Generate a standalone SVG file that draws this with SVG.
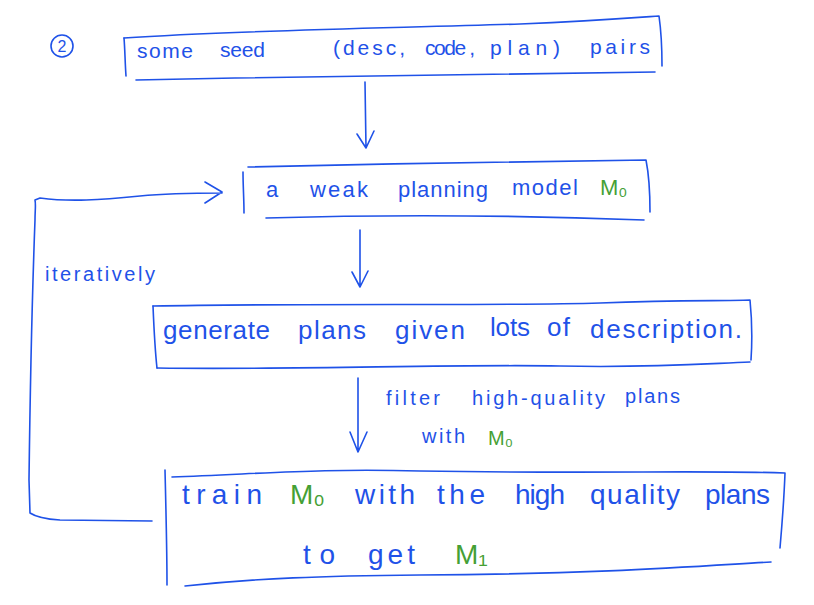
<svg xmlns="http://www.w3.org/2000/svg" width="814" height="605" viewBox="0 0 814 605">
<style>
.ln{fill:none;stroke:#1f52e8;stroke-width:1.6;stroke-linecap:round;stroke-linejoin:round}
.t{font-family:"Liberation Sans",Arial,sans-serif;fill:#1f52e8}
.g{fill:#45a035}
</style>
<rect width="814" height="605" fill="#ffffff"/>
<g id="step-number">
<circle class="ln" cx="62" cy="46" r="11"/>
<text class="t" x="62" y="52" font-size="16" text-anchor="middle">2</text>
</g>
<g id="node-seed">
<path class="ln" d="M124,38 C240,30 400,28 520,24 C590,21 630,18 659,16 C661,30 662,50 662,66"/>
<path class="ln" d="M124,38 C125,50 125,62 126,76"/>
<path class="ln" d="M136,80 C300,76 450,76 655,72"/>
<g class="t" font-size="21">
<text x="137" y="58" textLength="56" lengthAdjust="spacing">some</text>
<text x="220" y="57" textLength="45" lengthAdjust="spacing">seed</text>
<text x="333" y="55" textLength="72" lengthAdjust="spacing">(desc,</text>
<text x="425" y="55" textLength="50" lengthAdjust="spacing">code ,</text>
<text x="490" y="55" textLength="70" lengthAdjust="spacing">plan)</text>
<text x="590" y="54" textLength="60" lengthAdjust="spacing">pairs</text>
</g>
</g>
<g id="node-weak-model">
<path class="ln" d="M243,172 C243,185 244,200 244,213"/>
<path class="ln" d="M248,167 C380,164 520,161 646,160 C649,175 650,195 650,212"/>
<path class="ln" d="M266,218 C400,214 540,216 644,220"/>
<g class="t" font-size="22">
<text x="266" y="197">a</text>
<text x="310" y="197" textLength="58" lengthAdjust="spacing">weak</text>
<text x="398" y="197" textLength="90" lengthAdjust="spacing">planning</text>
<text x="512" y="195" textLength="66" lengthAdjust="spacing">model</text>
<text class="g" x="600" y="195">M₀</text>
</g>
</g>
<g id="node-generate">
<path class="ln" d="M153,306 C300,303 500,306 600,303 C680,300 720,301 750,300 C752,320 752,345 751,360"/>
<path class="ln" d="M153,306 C154,330 155,350 157,368"/>
<path class="ln" d="M157,368 C300,370 450,364 560,366 C650,368 700,364 750,362"/>
<g class="t" font-size="26">
<text x="163" y="339" textLength="107" lengthAdjust="spacing">generate</text>
<text x="298" y="339" textLength="68" lengthAdjust="spacing">plans</text>
<text x="395" y="339" textLength="70" lengthAdjust="spacing">given</text>
<text x="490" y="336" textLength="40" lengthAdjust="spacing">lots</text>
<text x="547" y="336" textLength="23" lengthAdjust="spacing">of</text>
<text x="590" y="338" textLength="152" lengthAdjust="spacing">description.</text>
</g>
</g>
<g id="node-train">
<path class="ln" d="M165,470 C166,510 167,550 167,585"/>
<path class="ln" d="M172,477 C260,474 320,468 420,471 C600,474 700,470 785,473 C784,500 782,525 780,548"/>
<path class="ln" d="M185,586 C260,578 320,576 420,575 C600,574 700,566 771,562"/>
<g class="t" font-size="28">
<text x="182" y="504" textLength="80" lengthAdjust="spacing">train</text>
<text class="g" x="290" y="504">M₀</text>
<text x="355" y="504" textLength="60" lengthAdjust="spacing">with</text>
<text x="437" y="504" textLength="48" lengthAdjust="spacing">the</text>
<text x="515" y="504" textLength="50" lengthAdjust="spacing">high</text>
<text x="590" y="504" textLength="90" lengthAdjust="spacing">quality</text>
<text x="705" y="504" textLength="65" lengthAdjust="spacing">plans</text>
<text x="303" y="564" textLength="32" lengthAdjust="spacing">to</text>
<text x="368" y="564" textLength="47" lengthAdjust="spacing">get</text>
<text class="g" x="455" y="564">M₁</text>
</g>
</g>
<g id="connectors">
<path class="ln" d="M365,82 L366,148 M357,134 L366,148 L374,131"/>
<path class="ln" d="M360,230 L360,286 M352,272 L360,287 L368,271"/>
<path class="ln" d="M358,378 L358,452 M350,432 L358,452 L367,432"/>
<path class="ln" d="M152,521 L60,520 C45,519 36,517 30,513 L29,480 C30,400 32,300 35,220 C35,210 36,205 35,200 L40,198 C70,202 100,200 140,196 C170,193 200,193 222,193 M205,182 L222,192 L205,203"/>
<g class="t" font-size="20">
<text x="386" y="405" textLength="54" lengthAdjust="spacing">filter</text>
<text x="472" y="405" textLength="133" lengthAdjust="spacing">high-quality</text>
<text x="625" y="403" textLength="55" lengthAdjust="spacing">plans</text>
<text x="422" y="443" textLength="43" lengthAdjust="spacing">with</text>
<text class="g" x="488" y="445">M₀</text>
<text x="45" y="281" textLength="110" lengthAdjust="spacing">iteratively</text>
</g>
</g>
</svg>
